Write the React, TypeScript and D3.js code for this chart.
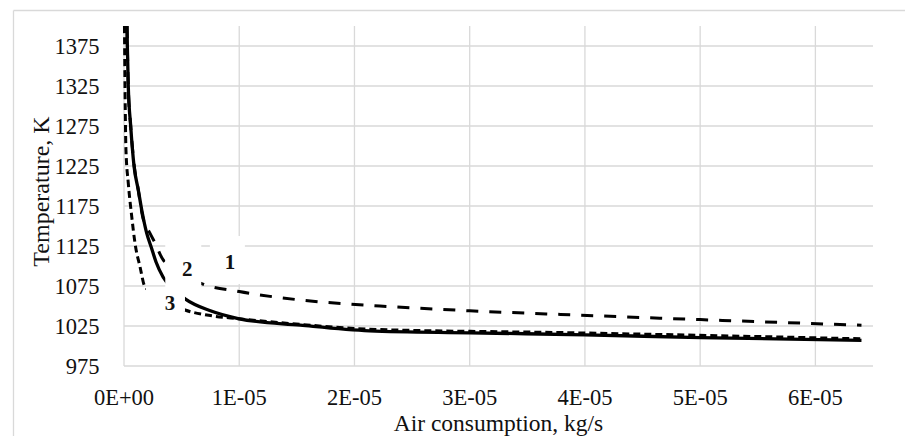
import React from 'react';
import * as d3 from 'd3';

// ---- data (x in kg/s, temperature in K) ----
const airFlow1 = [0.026e-5, 0.029e-5, 0.037e-5, 0.058e-5, 0.089e-5, 0.124e-5, 0.16e-5, 0.225e-5, 0.269e-5, 0.341e-5, 0.674e-5, 1.0e-5, 1.53e-5, 2.22e-5, 3.0e-5, 3.87e-5, 5.0e-5, 6.4e-5];
const temp1 = [1400, 1375, 1325, 1275, 1225, 1195, 1163, 1141, 1129, 1107.5, 1078, 1068, 1057.5, 1050, 1044, 1039, 1033, 1026];

const airFlow2 = [0.026e-5, 0.029e-5, 0.037e-5, 0.058e-5, 0.087e-5, 0.124e-5, 0.154e-5, 0.197e-5, 0.24e-5, 0.278e-5, 0.34e-5, 0.43e-5, 0.53e-5, 0.75e-5, 1.0e-5, 1.53e-5, 2.13e-5, 3.0e-5, 4.0e-5, 5.0e-5, 6.4e-5];
const temp2 = [1400, 1375, 1325, 1275, 1225, 1195, 1170, 1141, 1122, 1105, 1086, 1071, 1059, 1044, 1034, 1026, 1019, 1016.5, 1014, 1010.5, 1007];

const airFlow3 = [0.004e-5, 0.009e-5, 0.017e-5, 0.037e-5, 0.067e-5, 0.095e-5, 0.139e-5, 0.182e-5, 0.53e-5, 0.75e-5, 1.0e-5, 1.53e-5, 2.13e-5, 3.87e-5, 6.4e-5];
const temp3 = [1400, 1320, 1245, 1204, 1162, 1129, 1099, 1074, 1045, 1038, 1034, 1027, 1021, 1016.6, 1009];

const xTicks = [0, 1e-5, 2e-5, 3e-5, 4e-5, 5e-5, 6e-5];
const xTickLabels = ['0E+00', '1E-05', '2E-05', '3E-05', '4E-05', '5E-05', '6E-05'];
const yTicks = [975, 1025, 1075, 1125, 1175, 1225, 1275, 1325, 1375];
const yTickLabels = ['975', '1025', '1075', '1125', '1175', '1225', '1275', '1325', '1375'];

const curveLabels = ['1', '2', '3'];
const labelAir = [0.919e-5, 0.549e-5, 0.399e-5];
const labelTemp = [1105, 1097, 1054];

const xTitle = 'Air consumption, kg/s';
const yTitle = 'Temperature, K';

// ---- layout ----
const W = 905;
const H = 436;
const plot = { left: 124, right: 873, top: 26, bottom: 366 };
const FONT = '"Liberation Serif", "Times New Roman", serif';

export default function App() {
  const x = d3.scaleLinear().domain([0, 6.5e-5]).range([plot.left, plot.right]);
  const y = d3.scaleLinear().domain([975, 1400]).range([plot.bottom, plot.top]);

  const line = d3
    .line<[number, number]>()
    .x((d) => x(d[0]))
    .y((d) => y(d[1]))
    .curve(d3.curveMonotoneX);

  const s1 = line(airFlow1.map((v, i) => [v, temp1[i]] as [number, number])) || '';
  const s2 = line(airFlow2.map((v, i) => [v, temp2[i]] as [number, number])) || '';
  const s3 = line(airFlow3.map((v, i) => [v, temp3[i]] as [number, number])) || '';

  const grid = '#d9d9d9';
  // white boxes behind labels: offsets relative to label centre
  const boxes = [
    { dx0: -20, dx1: 15, dy0: -26, dy1: 22 },
    { dx0: -22, dx1: 14, dy0: -28, dy1: 20 },
    { dx0: -24, dx1: 15, dy0: -16, dy1: 9 },
  ];

  return (
    <svg
      width={W}
      height={H}
      style={{ position: 'absolute', left: 0, top: 0, background: '#fff' }}
      fontFamily={FONT}
    >
      <rect x={0} y={0} width={W} height={H} fill="#fff" />
      {/* outer chart border */}
      <line x1={13.5} y1={10.5} x2={W} y2={10.5} stroke={grid} strokeWidth={1.3} />
      <line x1={13.5} y1={10.5} x2={13.5} y2={H} stroke={grid} strokeWidth={1.3} />

      {/* grid */}
      {yTicks.map((t) => (
        <line key={'h' + t} x1={plot.left} x2={plot.right} y1={y(t)} y2={y(t)} stroke={grid} strokeWidth={1.3} />
      ))}
      {xTicks.map((t) => (
        <line key={'v' + t} x1={x(t)} x2={x(t)} y1={plot.top} y2={plot.bottom} stroke={grid} strokeWidth={1.3} />
      ))}

      {/* tick labels */}
      {yTicks.map((t, i) => (
        <text key={'yl' + t} x={99.5} y={y(t)} dy="0.34em" textAnchor="end" fontSize={22.5} fill="#111">
          {yTickLabels[i]}
        </text>
      ))}
      {xTicks.map((t, i) => (
        <text key={'xl' + t} x={x(t)} y={404.5} textAnchor="middle" fontSize={22.5} fill="#111">
          {xTickLabels[i]}
        </text>
      ))}

      {/* axis titles */}
      <text x={(plot.left + plot.right) / 2} y={430.5} textAnchor="middle" fontSize={23.5} fill="#111">
        {xTitle}
      </text>
      <text
        transform={`translate(48.5, ${191.5}) rotate(-90)`}
        textAnchor="middle"
        fontSize={24}
        fill="#111"
      >
        {yTitle}
      </text>

      {/* curves */}
      <path d={s3} fill="none" stroke="#000" strokeWidth={3} strokeDasharray="7,4" />
      <path d={s1} fill="none" stroke="#000" strokeWidth={3} strokeDasharray="12,11" />
      <path d={s2} fill="none" stroke="#000" strokeWidth={3.3} />

      {/* curve labels with white boxes */}
      {curveLabels.map((lab, i) => {
        const cx = x(labelAir[i]);
        const cy = y(labelTemp[i]);
        const b = boxes[i];
        return (
          <rect
            key={'box' + lab}
            x={cx + b.dx0}
            y={cy + b.dy0}
            width={b.dx1 - b.dx0}
            height={b.dy1 - b.dy0}
            fill="#fff"
          />
        );
      })}
      {curveLabels.map((lab, i) => (
        <text
          key={'labt' + lab}
          x={x(labelAir[i])}
          y={y(labelTemp[i])}
          dy="0.35em"
          textAnchor="middle"
          fontSize={21}
          fontWeight="bold"
          fill="#111"
        >
          {lab}
        </text>
      ))}
    </svg>
  );
}
